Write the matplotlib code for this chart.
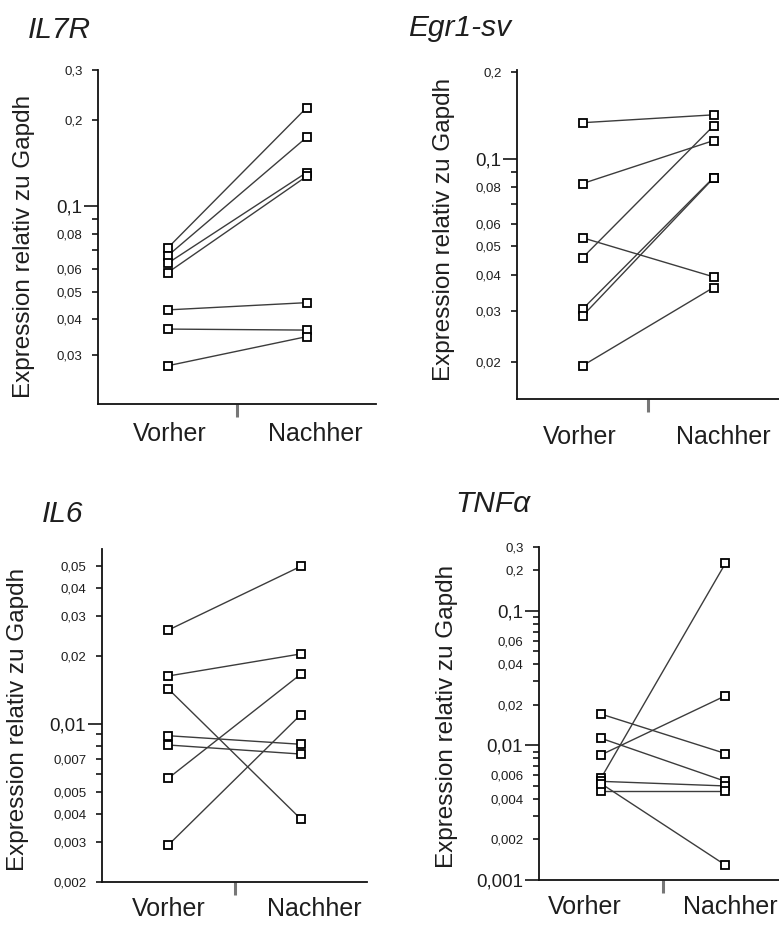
import matplotlib
matplotlib.use("Agg")
import matplotlib.pyplot as plt
from matplotlib.transforms import ScaledTranslation

plt.rcParams['font.family'] = ['Liberation Sans', 'DejaVu Sans']

# ---------------- data ----------------
groups = ["Vorher", "Nachher"]
titles = ["IL7R", "Egr1-sv", "IL6", "TNF\u03b1"]
ylabel = "Expression relativ zu Gapdh"

il7r_vorher = [0.0711, 0.0668, 0.0629, 0.0583, 0.0432, 0.0370, 0.0275]
il7r_nachher = [0.221, 0.174, 0.131, 0.127, 0.0458, 0.0367, 0.0348]

egr_vorher = [0.1336, 0.0824, 0.0536, 0.0457, 0.0304, 0.0288, 0.0194]
egr_nachher = [0.1422, 0.1159, 0.0393, 0.1303, 0.0864, 0.0860, 0.0361]

il6_vorher = [0.0260, 0.0163, 0.0143, 0.00888, 0.00808, 0.00576, 0.00292]
il6_nachher = [0.0497, 0.0204, 0.00381, 0.00814, 0.00737, 0.0166, 0.0110]

tnf_vorher = [0.0171, 0.0113, 0.00852, 0.00573, 0.00541, 0.00455, 0.00520]
tnf_nachher = [0.00871, 0.00541, 0.0234, 0.226, 0.00500, 0.00455, 0.00129]

# tick values and labels
il7r_major = [0.1]
il7r_minor = [0.3, 0.2, 0.09, 0.08, 0.07, 0.06, 0.05, 0.04, 0.03]
il7r_minor_lab = ["0,3", "0,2", "", "0,08", "", "0,06", "0,05", "0,04", "0,03"]

egr_major = [0.1]
egr_minor = [0.2, 0.09, 0.08, 0.07, 0.06, 0.05, 0.04, 0.03, 0.02]
egr_minor_lab = ["0,2", "", "0,08", "", "0,06", "0,05", "0,04", "0,03", "0,02"]

il6_major = [0.01]
il6_minor = [0.05, 0.04, 0.03, 0.02, 0.009, 0.008, 0.007, 0.006, 0.005, 0.004, 0.003, 0.002]
il6_minor_lab = ["0,05", "0,04", "0,03", "0,02", "", "", "0,007", "", "0,005", "0,004", "0,003", "0,002"]

tnf_major = [0.1, 0.01, 0.001]
tnf_minor = [0.3, 0.2, 0.09, 0.08, 0.07, 0.06, 0.05, 0.04, 0.03, 0.02,
             0.009, 0.008, 0.007, 0.006, 0.005, 0.004, 0.003, 0.002]
tnf_minor_lab = ["0,3", "0,2", "", "", "", "0,06", "", "0,04", "", "0,02",
                 "", "", "", "0,006", "", "0,004", "", "0,002"]

ylims = [(0.0202, 0.3), (0.0149, 0.203), (0.002, 0.0593), (0.001, 0.3)]

# ---------------- layout ----------------
W, H = 779, 925
fig = plt.figure(figsize=(W / 100, H / 100), dpi=100)

# (left, top, right, bottom) in pixels
boxes = [(98, 70, 376, 404), (517, 70, 779, 399), (102, 549, 367, 882.3), (539, 546.7, 787.6, 880)]
title_pos = [(28, 38), (408, 36), (42, 522), (455, 512)]
ylab_pos = [(24, 246), (444, 229), (18, 719), (447, 716)]
xpads = [13, 19, 10.5, 10.5]
xlab_shift = [(2, 9), (-3, 10), (1, 14), (-16, 5)]   # pixels

panels = [
    (il7r_vorher, il7r_nachher, il7r_major, il7r_minor, il7r_minor_lab),
    (egr_vorher, egr_nachher, egr_major, egr_minor, egr_minor_lab),
    (il6_vorher, il6_nachher, il6_major, il6_minor, il6_minor_lab),
    (tnf_vorher, tnf_nachher, tnf_major, tnf_minor, tnf_minor_lab),
]

line_col = "#3c3c3c"
text_col = "#1e1e1e"
for i, (vb, na, major, minor, minor_lab) in enumerate(panels):
    l, t, r, b = boxes[i]
    ax = fig.add_axes([l / W, 1 - b / H, (r - l) / W, (b - t) / H])
    ax.set_yscale("log")
    for v0, v1 in zip(vb, na):
        ax.plot([0, 1], [v0, v1], color=line_col, lw=1.0, zorder=2)
    ax.plot([0] * len(vb), vb, ls="none", marker="s", ms=5.2, mfc="white",
            mec="black", mew=1.3, zorder=3)
    ax.plot([1] * len(na), na, ls="none", marker="s", ms=5.2, mfc="white",
            mec="black", mew=1.3, zorder=3)
    ax.set_xlim(-0.5, 1.5)
    ax.set_ylim(*ylims[i])

    ax.set_yticks(major, [("%g" % v).replace(".", ",") for v in major])
    ax.set_yticks(minor, minor_lab, minor=True)
    ax.tick_params(axis="y", which="major", length=10, width=1.1, pad=1.5,
                   labelsize=13.5, colors="black")
    ax.tick_params(axis="y", which="minor", length=4.5, width=1.1, pad=6.5,
                   labelsize=9.5, colors="black")
    for lab in ax.get_yticklabels() + ax.get_yticklabels(minor=True):
        lab.set_color(text_col)

    ax.set_xticks([0, 1], groups)
    ax.set_xticks([0.5], minor=True)
    ax.tick_params(axis="x", which="major", length=0, pad=xpads[i], labelsize=18,
                   labelcolor=text_col)
    ax.tick_params(axis="x", which="minor", length=9, width=2.2, color="#777777")
    for tk, dx in zip(ax.xaxis.get_major_ticks(), xlab_shift[i]):
        lab = tk.label1
        lab.set_transform(lab.get_transform() +
                          ScaledTranslation(dx / 100, 0, fig.dpi_scale_trans))

    for s in ["top", "right"]:
        ax.spines[s].set_visible(False)
    for s in ["left", "bottom"]:
        ax.spines[s].set_linewidth(1.3)
        ax.spines[s].set_color("#111111")

    tx, ty = title_pos[i]
    fig.text(tx / W, 1 - ty / H, titles[i], fontsize=21.5, style="italic",
             ha="left", va="baseline", color=text_col)
    yx, yy = ylab_pos[i]
    fig.text(yx / W, 1 - yy / H, ylabel, rotation=90, ha="center", va="center",
             fontsize=17.5, color=text_col)

fig.savefig("out.png", dpi=100)
